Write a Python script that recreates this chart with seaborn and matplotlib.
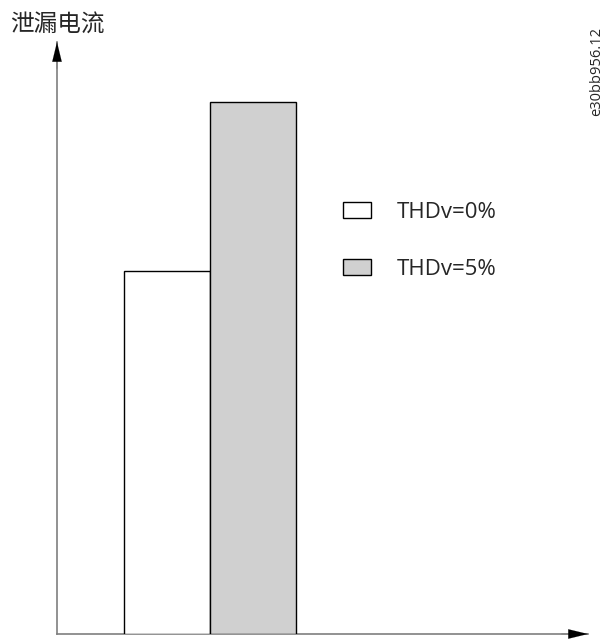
import matplotlib
matplotlib.use('Agg')
import matplotlib.pyplot as plt
import seaborn as sns

# ============================================================
# Data
# ============================================================
SERIES = ['THDv=0%', 'THDv=5%']
LEAKAGE = [61.3, 89.9]          # relative leakage current
COLORS = ['white', '#d0d0d0']
Y_LABEL = '泄漏电流'
DOC_ID = 'e30bb956.12'

sns.set_style('white')
plt.rcParams['font.family'] = ['Open Sans', 'Noto Sans CJK SC', 'DejaVu Sans']

W, H = 606, 639
fig = plt.figure(figsize=(W / 100, H / 100), dpi=100)
ax = fig.add_axes([57 / W, 5 / H, 531 / W, 592 / H])

sns.barplot(x=SERIES, y=LEAKAGE, hue=SERIES, palette=COLORS, width=1,
            edgecolor='black', linewidth=1, legend=False, ax=ax)

ax.set_xlim(-1.279, 4.895)
ax.set_ylim(0, 100)
ax.set_xticks([])
ax.set_yticks([])
ax.set_xlabel('')
ax.set_ylabel('')

# axis lines with arrow heads
for side in ['top', 'right']:
    ax.spines[side].set_visible(False)
for side in ['left', 'bottom']:
    ax.spines[side].set_color('#7f7f7f')
    ax.spines[side].set_linewidth(1.2)
    ax.spines[side].set_zorder(0.5)

head = dict(arrowstyle='-|>,head_length=1.4,head_width=0.34', color='black',
            lw=0.1, shrinkA=0, shrinkB=0)
ax.annotate('', xy=(1, 0), xytext=(0.95, 0), xycoords='axes fraction',
            arrowprops=head, annotation_clip=False)
ax.annotate('', xy=(0, 1), xytext=(0, 0.955), xycoords='axes fraction',
            arrowprops=head, annotation_clip=False)

# legend
ax.legend(handles=ax.patches[:2], labels=SERIES, loc='upper left',
          bbox_to_anchor=(343 / W, 1 - 202 / H), bbox_transform=fig.transFigure,
          frameon=False, fontsize=16, handlelength=1.27, handleheight=0.72,
          handletextpad=1.15, labelspacing=1.62, borderpad=0, borderaxespad=0)

fig.text(10 / W, 1 - 25 / H, Y_LABEL, fontsize=17, ha='left', va='center',
         family=['Noto Sans CJK SC', 'DejaVu Sans'])
fig.text(597 / W, 1 - 72 / H, DOC_ID, fontsize=10.5, rotation=90,
         ha='center', va='center')

plt.savefig('out.png', dpi=100)
